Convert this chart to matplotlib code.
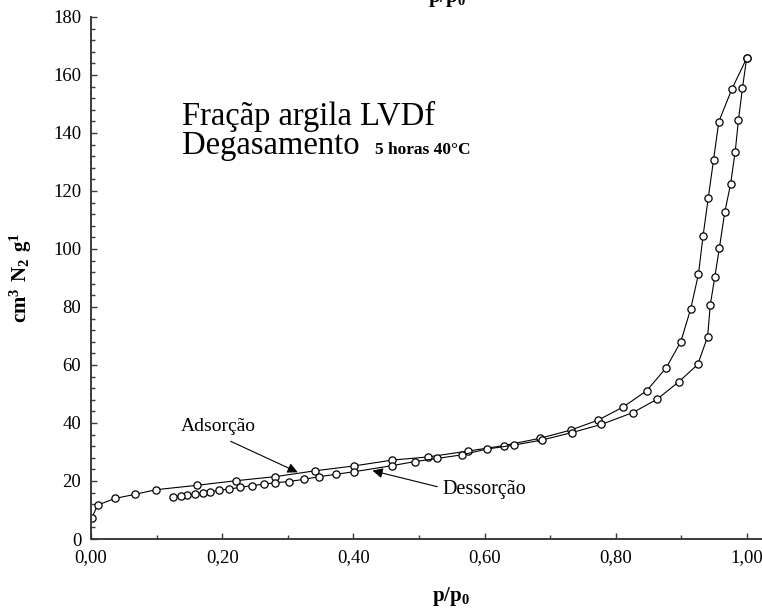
import numpy as np
import matplotlib
matplotlib.use("Agg")
import matplotlib.pyplot as plt
from matplotlib.ticker import FixedLocator, FuncFormatter

plt.rcParams['font.family'] = ['Liberation Serif', 'DejaVu Serif']
plt.rcParams['mathtext.fontset'] = 'custom'
plt.rcParams['mathtext.rm'] = 'Liberation Serif'
plt.rcParams['mathtext.bf'] = 'Liberation Serif:bold'

# ramo que parte de p/p0 = 0
p_ads = [0.001, 0.010, 0.037, 0.067, 0.099, 0.161, 0.221, 0.281, 0.341, 0.401,
         0.459, 0.514, 0.574, 0.629, 0.684, 0.732, 0.773, 0.811, 0.847, 0.877,
         0.899, 0.914, 0.926, 0.933, 0.941, 0.949, 0.957, 0.977, 0.9995]
v_ads = [7.1, 11.7, 14.0, 15.4, 17.0, 18.5, 20.1, 21.5, 23.5, 25.2,
         27.2, 28.3, 30.3, 32.2, 34.7, 37.6, 41.0, 45.5, 51.1, 59.1,
         68.0, 79.2, 91.3, 104.5, 117.7, 130.7, 143.9, 155.2, 165.8]

# ramo que volta de p/p0 = 1 ate 0,125
p_des = [0.9995, 0.993, 0.987, 0.982, 0.975, 0.966, 0.958, 0.951, 0.944, 0.940,
         0.925, 0.896, 0.863, 0.826, 0.778, 0.733, 0.687, 0.645, 0.603, 0.565,
         0.528, 0.494, 0.459, 0.401, 0.373, 0.348, 0.325, 0.302, 0.280, 0.263,
         0.245, 0.227, 0.210, 0.195, 0.182, 0.170, 0.159, 0.147, 0.137, 0.125]
v_des = [165.8, 155.4, 144.5, 133.6, 122.4, 112.6, 100.5, 90.5, 80.7, 69.8,
         60.2, 54.2, 48.2, 43.6, 39.5, 36.7, 34.1, 32.4, 31.0, 29.0,
         27.8, 26.7, 25.3, 23.2, 22.3, 21.5, 20.6, 19.8, 19.4, 18.9,
         18.4, 17.8, 17.2, 16.8, 16.2, 15.7, 15.4, 15.2, 14.9, 14.6]

W, H = 762, 611
fig = plt.figure(figsize=(W / 100, H / 100), dpi=100)
ax = fig.add_axes([91 / W, 1 - 539 / H, (W - 91) / W, (539 - 17) / H])

axcol = '#3a3a3a'
for xs, ys in [(p_ads, v_ads), (p_des, v_des)]:
    ax.plot(xs, ys, '-', color='black', lw=0.8, marker='o', ms=5.2,
            mfc='white', mec='black', mew=0.9)

ax.set_xlim(0, (W - 91) / 656)
ax.set_ylim(0, 180)
for s in ['top', 'right']:
    ax.spines[s].set_visible(False)
for s in ['left', 'bottom']:
    ax.spines[s].set_color(axcol)
    ax.spines[s].set_linewidth(1.4)

ax.xaxis.set_major_locator(FixedLocator([0, 0.2, 0.4, 0.6, 0.8, 1.0]))
ax.xaxis.set_minor_locator(FixedLocator([0.1, 0.3, 0.5, 0.7, 0.9]))
ax.yaxis.set_major_locator(FixedLocator(np.arange(0, 181, 20)))
ax.yaxis.set_minor_locator(FixedLocator(np.arange(0, 181, 4)))
ax.xaxis.set_major_formatter(FuncFormatter(lambda v, p: ('%.2f' % v).replace('.', ',')))
ax.yaxis.set_major_formatter(FuncFormatter(lambda v, p: '%d' % v))
ax.tick_params(which='both', direction='in', color=axcol, width=1, labelsize=13.5)
ax.tick_params(which='major', length=4)
ax.tick_params(which='minor', length=3)
ax.tick_params(axis='y', pad=7)
ax.tick_params(axis='x', pad=7)

ax.text(0.139, 142.8, 'Fraçãp argila LVDf', fontsize=23.5, va='baseline')
ax.text(0.139, 132.8, 'Degasamento', fontsize=23.5, va='baseline')
ax.text(0.433, 132.8, '5 horas 40°C', fontsize=12.5, fontweight='bold', va='baseline')

ax.text(0.194, 38.7, 'Adsorção', fontsize=14, ha='center', va='center')
ax.annotate('', xy=(0.319, 22.6), xytext=(0.209, 34.1),
            arrowprops=dict(arrowstyle='-|>', color='black', lw=0.8, mutation_scale=15))
ax.text(0.535, 16.9, 'Dessorção', fontsize=14.5, ha='left', va='center')
ax.annotate('', xy=(0.425, 23.8), xytext=(0.532, 17.8),
            arrowprops=dict(arrowstyle='-|>', color='black', lw=0.8, mutation_scale=15))

ax.text(0.549, -0.11, r'$\mathbf{p/p_0}$', transform=ax.get_xaxis_transform(),
        fontsize=15, ha='center', va='center')
ax.set_ylabel(r'$\mathbf{cm^3\ N_2\ g^1}$', fontsize=15)
ax.yaxis.set_label_coords(-(91 - 34) / (W - 91), 0.5)

# rotulo repetido no topo, cortado pela borda da figura
fig.text(447 / W, 1 - 2 / H, r'$\mathbf{p/p_0}$', fontsize=15, ha='center', va='baseline')

fig.savefig('out.png', dpi=100)
